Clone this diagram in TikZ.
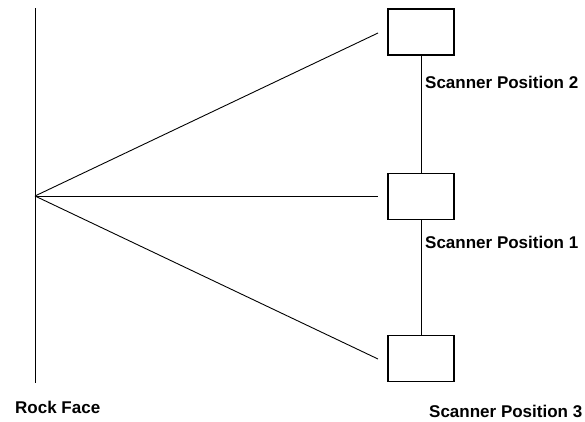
\documentclass[tikz,border=0pt]{standalone}
\usepackage{fontspec}
\setmainfont{Liberation Sans}
\begin{document}
\begin{tikzpicture}[x=1pt,y=-1pt,
  scanbox/.style={draw,line width=1.1pt,rectangle,minimum width=66pt,minimum height=46pt,inner sep=0pt},
  lbl/.style={anchor=base west,inner sep=0pt,font=\fontsize{17}{19}\selectfont\bfseries},
  ln/.style={line width=0.9pt}]
\useasboundingbox (0,0) rectangle (585,421);
\coordinate (top) at (35,8);
\coordinate (bot) at (35,383);
\coordinate (apex) at (35,196);
\node[scanbox] (b2) at (421,32) {};
\node[scanbox] (b1) at (421,196.7) {};
\node[scanbox] (b3) at (421,358.3) {};
\coordinate (e2) at (378,33);
\coordinate (e1) at (378,196);
\coordinate (e3) at (378,359);
\draw[ln] (top) -- (bot);
\draw[ln] (apex) -- (e2);
\draw[ln] (apex) -- (e1);
\draw[ln] (apex) -- (e3);
\draw[ln] (b2.south) -- (b1.north);
\draw[ln] (b1.south) -- (b3.north);
\node[lbl] (l2) at (425,88) {Scanner Position 2};
\node[lbl] (l1) at (425,248) {Scanner Position 1};
\node[lbl] (l3) at (429,417) {Scanner Position 3};
\node[lbl] (rf) at (15,413) {Rock Face};
\end{tikzpicture}
\end{document}
